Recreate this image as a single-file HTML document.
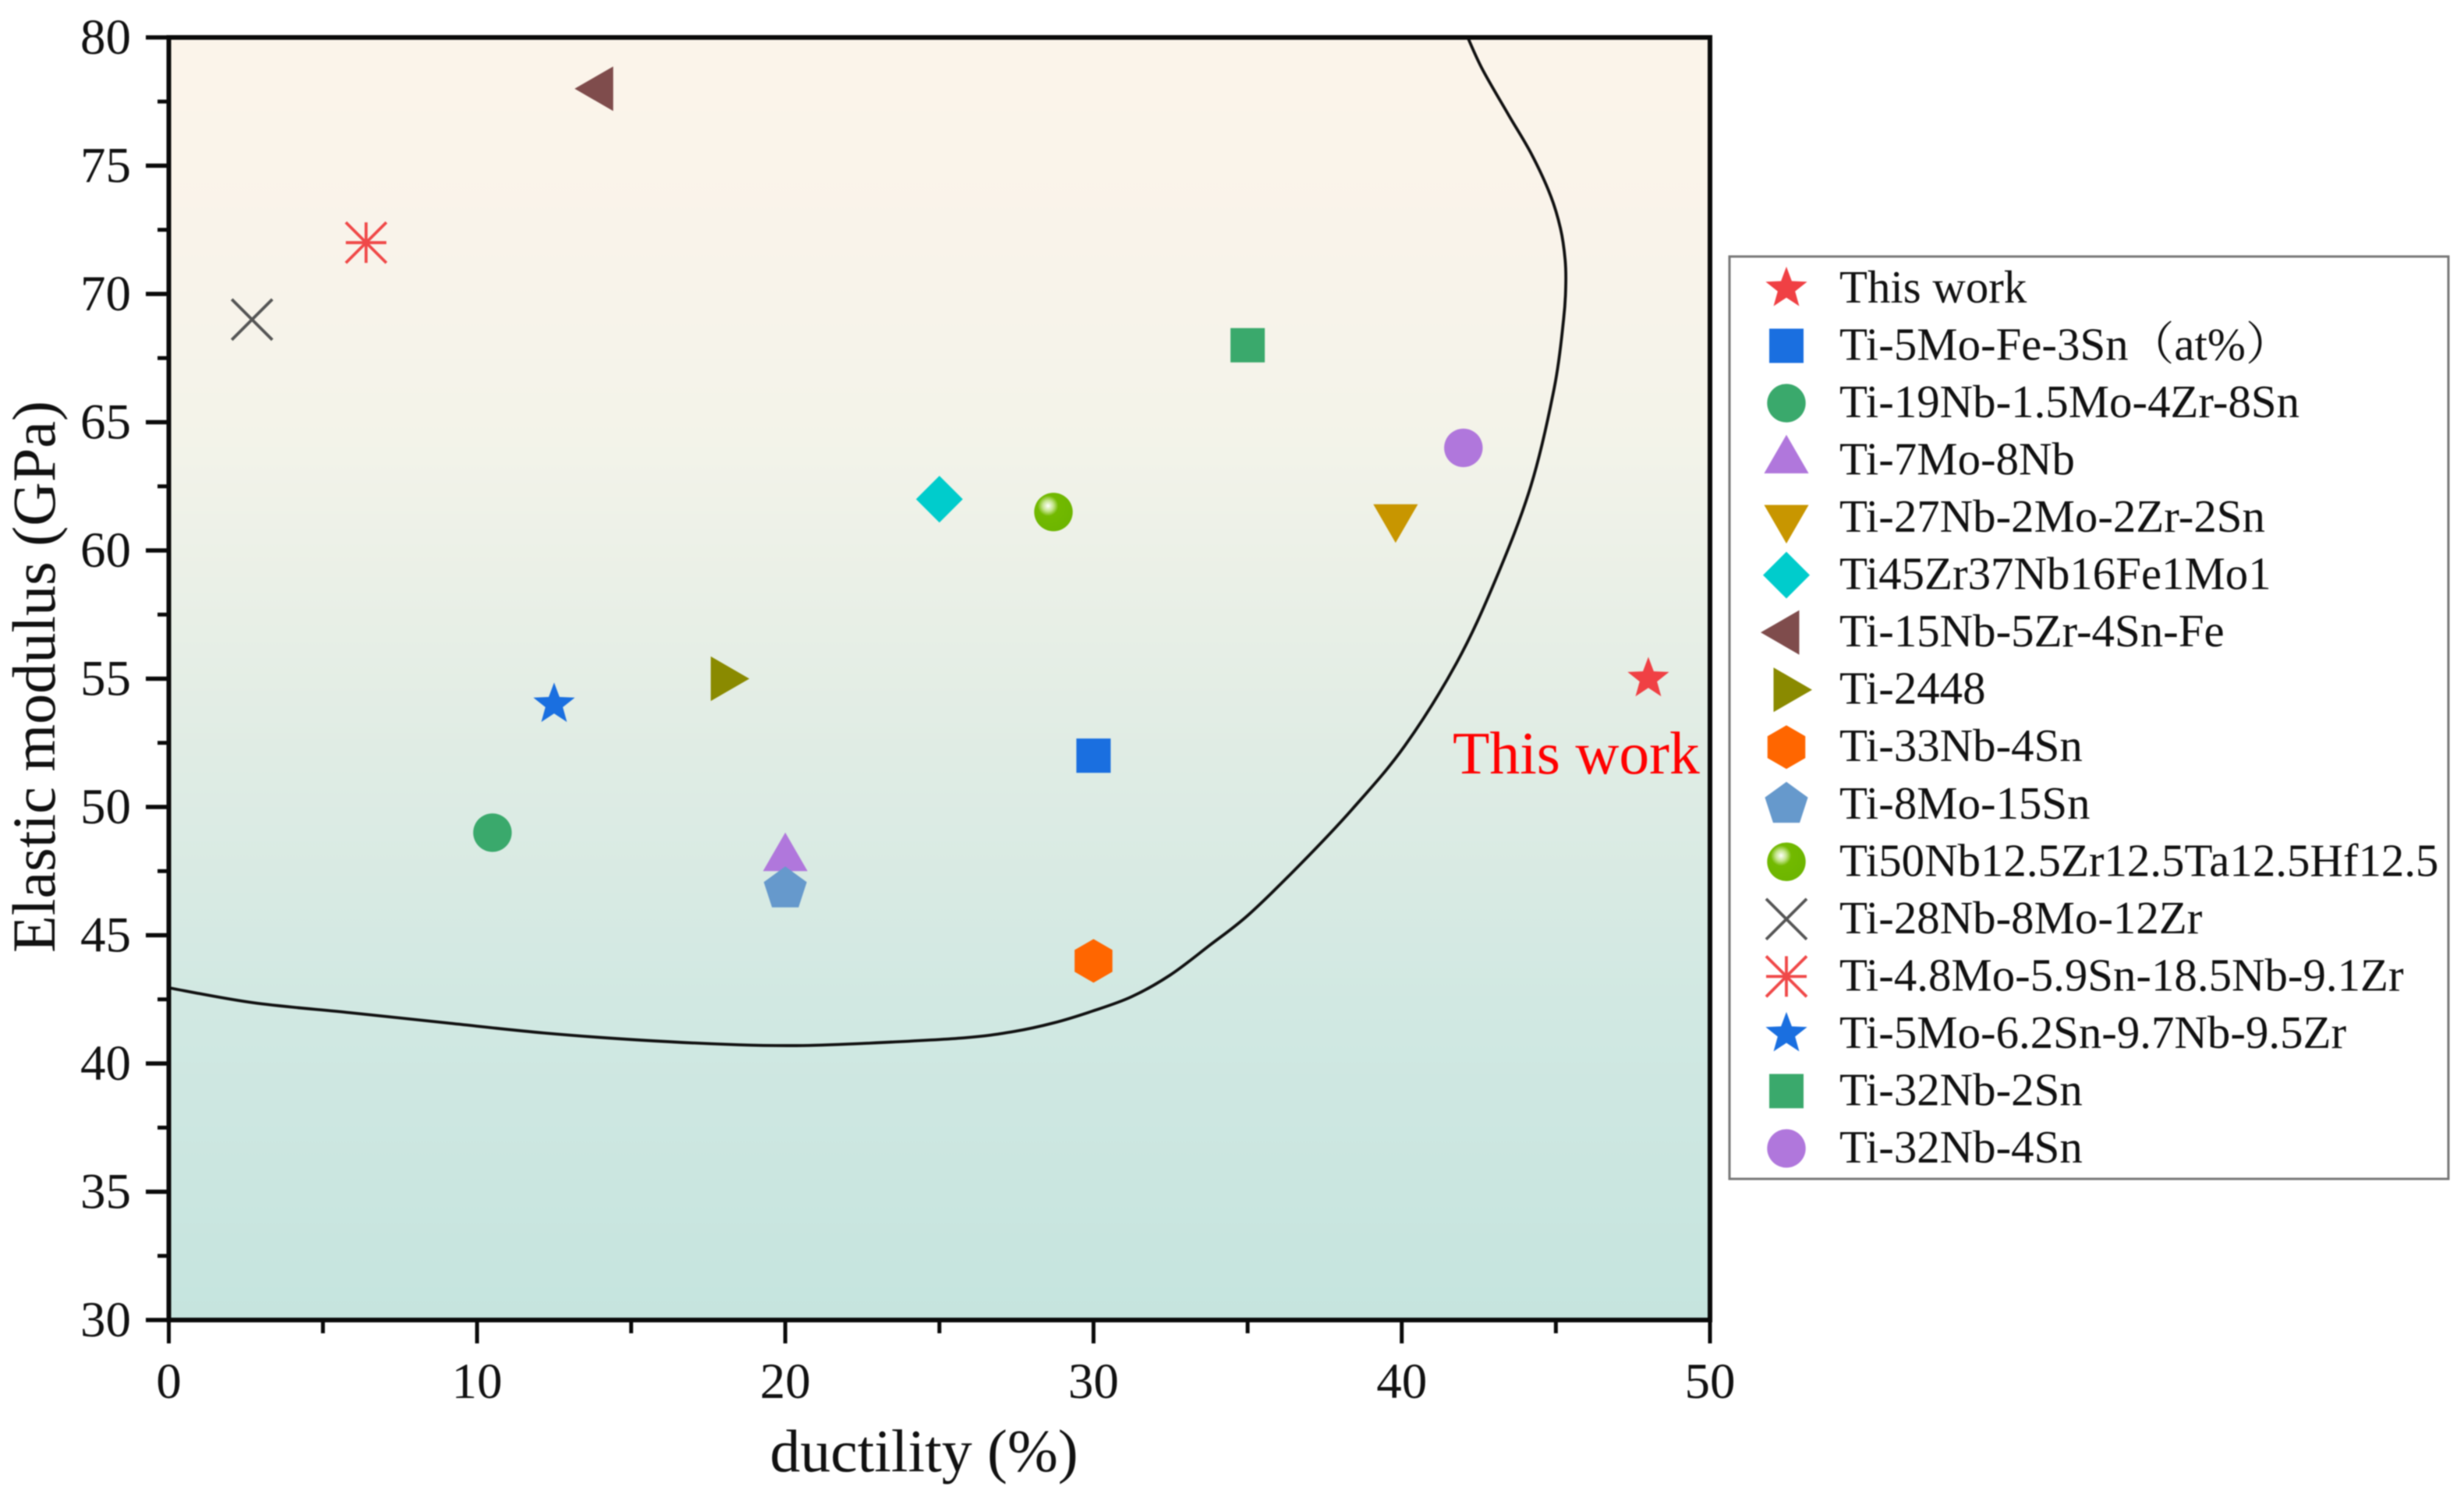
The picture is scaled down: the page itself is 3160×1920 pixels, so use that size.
<!DOCTYPE html>
<html lang="en">
<head>
<meta charset="utf-8">
<title>Elastic modulus vs ductility</title>
<style>
html,body{margin:0;padding:0;background:#fff;}
#chart{display:block;width:3160px;height:1920px;filter:blur(0.9px);}
text{font-family:"Liberation Serif","Noto Serif CJK SC",serif;fill:#111;}
</style>
</head>
<body>
<svg id="chart" xmlns="http://www.w3.org/2000/svg" width="3160" height="1920" viewBox="0 0 3160 1920">
  <defs>
    <linearGradient id="bgGrad" x1="0" y1="0" x2="0" y2="1">
      <stop offset="0" stop-color="#fbf4ea"/>
      <stop offset="0.15" stop-color="#f9f3ea"/>
      <stop offset="0.31" stop-color="#f3f3e9"/>
      <stop offset="0.55" stop-color="#e0ece4"/>
      <stop offset="0.75" stop-color="#d1e8e2"/>
      <stop offset="1" stop-color="#c5e4de"/>
    </linearGradient>
    <radialGradient id="sphereGrad" cx="0.36" cy="0.34" r="0.7">
      <stop offset="0" stop-color="#ffffff"/>
      <stop offset="0.2" stop-color="#c4e48c"/>
      <stop offset="0.38" stop-color="#72b900"/>
      <stop offset="1" stop-color="#6cb500"/>
    </radialGradient>
    <clipPath id="plotClip"><rect x="216.5" y="48" width="1976.5" height="1645"/></clipPath>
  </defs>
</svg>
<script>
// ---- chart data ----
const xDomain = [0, 50];
const yDomain = [30, 80];
const xTickLabels = [0, 10, 20, 30, 40, 50];
const xMinorTicks = [5, 15, 25, 35, 45];
const yTickLabels = [30, 35, 40, 45, 50, 55, 60, 65, 70, 75, 80];
const yMinorTicks = [32.5, 37.5, 42.5, 47.5, 52.5, 57.5, 62.5, 67.5, 72.5, 77.5];
const seriesNames = ["This work", "Ti-5Mo-Fe-3Sn（at%）", "Ti-19Nb-1.5Mo-4Zr-8Sn", "Ti-7Mo-8Nb", "Ti-27Nb-2Mo-2Zr-2Sn", "Ti45Zr37Nb16Fe1Mo1", "Ti-15Nb-5Zr-4Sn-Fe", "Ti-2448", "Ti-33Nb-4Sn", "Ti-8Mo-15Sn", "Ti50Nb12.5Zr12.5Ta12.5Hf12.5", "Ti-28Nb-8Mo-12Zr", "Ti-4.8Mo-5.9Sn-18.5Nb-9.1Zr", "Ti-5Mo-6.2Sn-9.7Nb-9.5Zr", "Ti-32Nb-2Sn", "Ti-32Nb-4Sn"];
const ductilityValues = [48, 30, 10.5, 20, 39.8, 25, 14, 18, 30, 20, 28.7, 2.7, 6.4, 12.5, 35, 42];
const modulusValues = [55, 52, 49, 48, 61.3, 62, 78, 55, 44, 46.8, 61.5, 69, 72, 54, 68, 64];
const boundaryDuctility = [0, 2.73, 5.88, 9.03, 12.17, 15.33, 18.47, 20.57, 22.67, 25.8, 27.43, 28.7, 29.96, 31.23, 32.49, 33.76, 35.03, 36.72, 38.39, 40.09, 41.78, 43.05, 44.19, 44.95, 45.25, 45.32, 45.3, 45.15, 44.82, 44.2, 43.46, 42.62, 42.14];
const boundaryModulus = [42.95, 42.37, 41.98, 41.58, 41.19, 40.91, 40.73, 40.7, 40.79, 41, 41.25, 41.58, 42.04, 42.6, 43.45, 44.6, 45.8, 47.78, 49.91, 52.37, 55.62, 58.88, 62.52, 66.35, 69, 70.3, 71.34, 72.55, 73.86, 75.47, 76.99, 78.75, 80];

// ---- marker styling (one per series, in order) ----
const markerKinds = ["star", "square", "circle", "triUp", "triDown", "diamond", "triLeft", "triRight", "hexagon", "pentagon", "sphere", "cross", "asterisk", "star", "square", "circle"];
const markerColors = ["#f04044", "#1a6fe0", "#3aa96c", "#b077dc", "#c89600", "#00cccc", "#7f4c4c", "#8a8a00", "#ff6600", "#6699cc", "#6fb800", "#555555", "#f04848", "#1a6fe0", "#3aa96c", "#b077dc"];

// ---- layout ----
const plotLeft = 216.5, plotRight = 2193, plotTop = 48, plotBottom = 1693;
const NS = "http://www.w3.org/2000/svg";
const svg = document.getElementById("chart");

function xScale(v) { return plotLeft + (v - xDomain[0]) / (xDomain[1] - xDomain[0]) * (plotRight - plotLeft); }
function yScale(v) { return plotBottom - (v - yDomain[0]) / (yDomain[1] - yDomain[0]) * (plotBottom - plotTop); }
function make(tag, attrs, parent) {
  const node = document.createElementNS(NS, tag);
  for (const k in attrs) node.setAttribute(k, attrs[k]);
  (parent || svg).appendChild(node);
  return node;
}
function pts(list) { return list.map(function (p) { return p[0].toFixed(2) + "," + p[1].toFixed(2); }).join(" "); }
function regular(cx, cy, r, n, startDeg) {
  const out = [];
  for (let i = 0; i < n; i++) {
    const a = (startDeg + i * 360 / n) * Math.PI / 180;
    out.push([cx + r * Math.cos(a), cy + r * Math.sin(a)]);
  }
  return out;
}
function starPoints(cx, cy, r) {
  const out = [];
  for (let i = 0; i < 10; i++) {
    const a = (-90 + i * 36) * Math.PI / 180;
    const rad = i % 2 === 0 ? r : r * 0.42;
    out.push([cx + rad * Math.cos(a), cy + rad * Math.sin(a)]);
  }
  return out;
}
function drawMarker(kind, cx, cy, color, parent) {
  if (kind === "star") return make("polygon", { points: pts(starPoints(cx, cy, 28)), fill: color }, parent);
  if (kind === "square") return make("rect", { x: cx - 22, y: cy - 22, width: 44, height: 44, fill: color }, parent);
  if (kind === "circle") return make("circle", { cx: cx, cy: cy, r: 24.7, fill: color }, parent);
  if (kind === "sphere") return make("circle", { cx: cx, cy: cy, r: 24.7, fill: "url(#sphereGrad)" }, parent);
  if (kind === "triUp") return make("polygon", { points: pts(regular(cx, cy, 33, 3, -90)), fill: color }, parent);
  if (kind === "triDown") return make("polygon", { points: pts(regular(cx, cy, 33, 3, 90)), fill: color }, parent);
  if (kind === "triLeft") return make("polygon", { points: pts(regular(cx, cy, 33, 3, 180)), fill: color }, parent);
  if (kind === "triRight") return make("polygon", { points: pts(regular(cx, cy, 33, 3, 0)), fill: color }, parent);
  if (kind === "diamond") return make("polygon", { points: pts(regular(cx, cy, 30, 4, -90)), fill: color }, parent);
  if (kind === "hexagon") return make("polygon", { points: pts(regular(cx, cy, 28, 6, -90)), fill: color }, parent);
  if (kind === "pentagon") return make("polygon", { points: pts(regular(cx, cy, 29, 5, -90)), fill: color }, parent);
  const g = make("g", { stroke: color, "stroke-width": 3.8, fill: "none" }, parent);
  const h = 26;
  make("line", { x1: cx - h, y1: cy - h, x2: cx + h, y2: cy + h }, g);
  make("line", { x1: cx - h, y1: cy + h, x2: cx + h, y2: cy - h }, g);
  if (kind === "asterisk") {
    make("line", { x1: cx - h, y1: cy, x2: cx + h, y2: cy }, g);
    make("line", { x1: cx, y1: cy - h, x2: cx, y2: cy + h }, g);
  }
  return g;
}

// ---- background ----
const plotBg = make("rect", { x: plotLeft, y: plotTop, width: plotRight - plotLeft, height: plotBottom - plotTop, fill: "url(#bgGrad)" });



// ---- boundary curve (Catmull-Rom through the read points) ----
(function () {
  const p = boundaryDuctility.map(function (d, i) { return [xScale(d), yScale(boundaryModulus[i])]; });
  let d = "M" + p[0][0].toFixed(2) + " " + p[0][1].toFixed(2);
  for (let i = 0; i < p.length - 1; i++) {
    const a = p[Math.max(0, i - 1)], b = p[i], c = p[i + 1], e = p[Math.min(p.length - 1, i + 2)];
    d += " C" + (b[0] + (c[0] - a[0]) / 6).toFixed(2) + " " + (b[1] + (c[1] - a[1]) / 6).toFixed(2) + " " +
      (c[0] - (e[0] - b[0]) / 6).toFixed(2) + " " + (c[1] - (e[1] - b[1]) / 6).toFixed(2) + " " +
      c[0].toFixed(2) + " " + c[1].toFixed(2);
  }
  const curve = make("path", { d: d, fill: "none", stroke: "#111", "stroke-width": 3.8, "clip-path": "url(#plotClip)" });
  
  
})();

// ---- axes ----
const axesGroup = make("g", { stroke: "#0a0a0a", "stroke-linecap": "butt" });


const frame = make("rect", { x: plotLeft, y: plotTop, width: plotRight - plotLeft, height: plotBottom - plotTop, fill: "none", "stroke-width": 6 }, axesGroup);



yTickLabels.forEach(function (v) {
  const y = yScale(v);
  const tick = make("line", { x1: 187, y1: y, x2: plotLeft, y2: y, "stroke-width": 5.5 }, axesGroup);
  
  
  const label = make("text", { x: 168, y: y + 21, "text-anchor": "end", "font-size": 65 });
  label.textContent = String(v);
  
  
});
yMinorTicks.forEach(function (v) {
  const y = yScale(v);
  const tick = make("line", { x1: 202, y1: y, x2: plotLeft, y2: y, "stroke-width": 5 }, axesGroup);
  
  
});
xTickLabels.forEach(function (v) {
  const x = xScale(v);
  const tick = make("line", { x1: x, y1: plotBottom, x2: x, y2: 1723, "stroke-width": 5 }, axesGroup);
  
  
  const label = make("text", { x: x, y: 1793, "text-anchor": "middle", "font-size": 65 });
  label.textContent = String(v);
  
  
});
xMinorTicks.forEach(function (v) {
  const x = xScale(v);
  const tick = make("line", { x1: x, y1: plotBottom, x2: x, y2: 1710, "stroke-width": 5 }, axesGroup);
  
  
});

// ---- axis titles ----
const xTitle = make("text", { x: 1185, y: 1887, "text-anchor": "middle", "font-size": 77.8 });
xTitle.textContent = "ductility (%)";


const yTitle = make("text", { x: 0, y: 0, "text-anchor": "middle", "font-size": 78.2, transform: "translate(70 868) rotate(-90)" });
yTitle.textContent = "Elastic modulus (GPa)";



// ---- data points ----
seriesNames.forEach(function (name, i) {
  const point = drawMarker(markerKinds[i], xScale(ductilityValues[i]), yScale(modulusValues[i]), markerColors[i]);
  
  
  const tip = make("title", {}, point);
  tip.textContent = name;
});

// ---- annotation ----
const note = make("text", { x: 1863, y: 992, "font-size": 77.6, style: "fill:#ff0000" });
note.textContent = "This work";



// ---- legend ----
const legend = make("g", {});


const legendBox = make("rect", { x: 2218, y: 329, width: 922, height: 1183, fill: "#fff", stroke: "#777", "stroke-width": 3 }, legend);


seriesNames.forEach(function (name, i) {
  const rowY = 369 + i * 73.53;
  const entry = make("g", {}, legend);
  
  
  const symbol = drawMarker(markerKinds[i], 2291, rowY + 1, markerColors[i], entry);
  
  
  const label = make("text", { x: 2359, y: rowY + 19, "font-size": 58.85 }, entry);
  label.textContent = name;
  
  
});
</script>
</body>
</html>
